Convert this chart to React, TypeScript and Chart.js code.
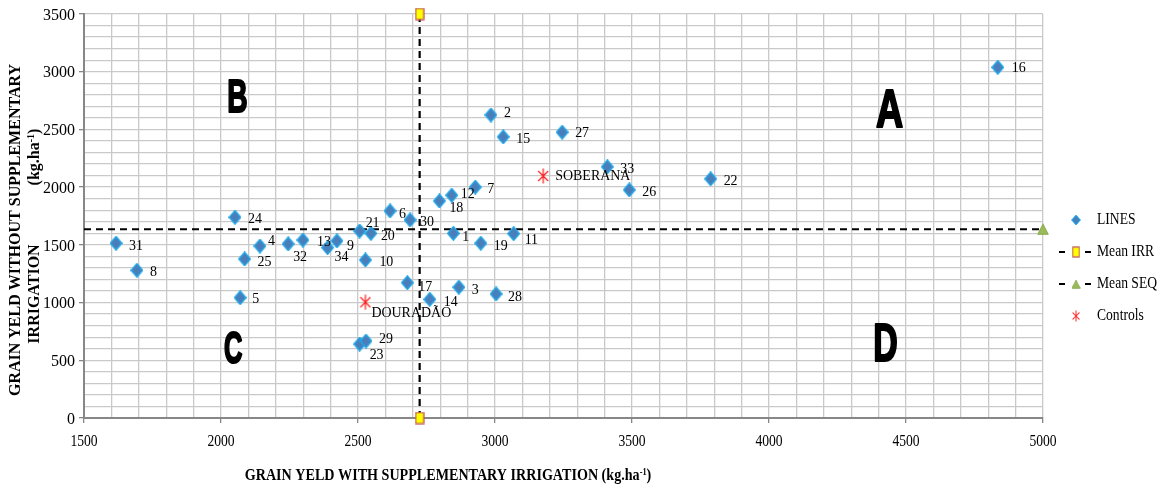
import { useEffect, useRef } from "react";
import { Chart, registerables } from "chart.js";

Chart.register(...registerables);

// ---------------- data ----------------
const X_MIN = 1500;
const X_MAX = 5000;
const Y_MIN = 0;
const Y_MAX = 3500;
const X_TICKS = [1500, 2000, 2500, 3000, 3500, 4000, 4500, 5000];
const Y_TICKS = [0, 500, 1000, 1500, 2000, 2500, 3000, 3500];

const LINE_IDS = [1, 2, 3, 4, 5, 6, 7, 8, 9, 10, 11, 12, 13, 14, 15, 16, 17, 18, 19, 20, 21, 22, 23, 24, 25, 26, 27, 28, 29, 30, 31, 32, 33, 34];
const LINE_IRR = [2848, 2985, 2868, 2142, 2070, 2617, 2928, 1693, 2423, 2527, 3068, 2842, 2299, 2762, 3030, 4835, 2680, 2797, 2948, 2547, 2506, 3787, 2506, 2051, 2086, 3490, 3245, 3004, 2529, 2690, 1617, 2245, 3410, 2389];
const LINE_SEQ = [1600, 2625, 1133, 1490, 1042, 1794, 2000, 1280, 1534, 1369, 1597, 1930, 1542, 1028, 2435, 3038, 1172, 1880, 1514, 1600, 1620, 2072, 641, 1739, 1378, 1976, 2476, 1075, 667, 1716, 1514, 1508, 2176, 1476];

const CONTROL_NAMES = ["SOBERANA", "DOURADÃO"];
const CONTROL_IRR = [3176, 2527];
const CONTROL_SEQ = [2097, 1003];

const MEAN_IRR = 2725;
const MEAN_SEQ = 1635;

const QUADRANTS = ["A", "B", "C", "D"];
const QUAD_IRR = [4440, 2060, 2045, 4425];
const QUAD_SEQ = [2686, 2799, 611, 659];

const LEGEND_LABELS = ["LINES", "Mean IRR", "Mean SEQ", "Controls"];

// ---------------- styles ----------------
const SERIF = '"Liberation Serif", "Times New Roman", serif';
const GRID = "#c9c9c9";
const AXIS = "#878787";
// label offsets in px (dx, dy) relative to each marker
const LINE_LABEL_OFFSETS: number[][] = [
  [9, 4], [13, -2], [13, 3], [8, -5], [12, 1], [9, 3], [12, 2], [13, 2], [10, 5], [14, 2],
  [11, 6], [9, -1], [14, 2], [14, 3], [13, 2], [14, 1], [11, 4], [10, 7], [13, 3], [10, 3],
  [6, -8], [13, 2], [10, 11], [13, 2], [13, 3], [13, 2], [13, 1], [12, 3], [13, -2], [10, 2],
  [13, 3], [5, 13], [13, 2], [7, 9],
];
const CONTROL_LABEL_OFFSETS: number[][] = [[12, 0], [6, 11]];
const QUAD_PX = [53, 47, 44, 53];
const QUAD_SX = [0.71, 0.6, 0.58, 0.64];

function mk(w: number, h: number, draw: (g: CanvasRenderingContext2D) => void) {
  const c = document.createElement("canvas");
  c.width = w;
  c.height = h;
  draw(c.getContext("2d")!);
  return c;
}

type Seg = { t: string; px: number; bold?: boolean; dy?: number };

function drawSegs(
  ctx: CanvasRenderingContext2D,
  segs: Seg[],
  cx: number,
  cy: number,
  align: "left" | "center" | "right",
  sx: number,
  sy: number,
  rot = 0,
  family = SERIF
) {
  ctx.save();
  ctx.translate(cx, cy);
  if (rot) ctx.rotate(rot);
  ctx.scale(sx, sy);
  ctx.textBaseline = "middle";
  ctx.textAlign = "left";
  ctx.fillStyle = "#000";
  let W = 0;
  const ws = segs.map((s) => {
    ctx.font = `${s.bold ? "bold " : ""}${s.px}px ${family}`;
    const w = ctx.measureText(s.t).width;
    W += w;
    return w;
  });
  let x = align === "center" ? -W / 2 : align === "right" ? -W : 0;
  segs.forEach((s, i) => {
    ctx.font = `${s.bold ? "bold " : ""}${s.px}px ${family}`;
    ctx.fillText(s.t, x, s.dy || 0);
    x += ws[i];
  });
  ctx.restore();
}

export default function App() {
  const ref = useRef<HTMLCanvasElement>(null);

  useEffect(() => {
    const canvas = ref.current!;

    const diamond = mk(13, 15, (g) => {
      g.beginPath();
      g.moveTo(6.5, 0.8);
      g.lineTo(12.2, 7.5);
      g.lineTo(6.5, 14.2);
      g.lineTo(0.8, 7.5);
      g.closePath();
      g.fillStyle = "#4a7ebb";
      g.fill();
      g.lineWidth = 1.4;
      g.strokeStyle = "#1fa6e6";
      g.stroke();
    });
    const asterisk = mk(12, 16, (g) => {
      g.strokeStyle = "#ff1a1a";
      g.lineWidth = 1.2;
      g.beginPath();
      g.moveTo(6, 0.5);
      g.lineTo(6, 15.5);
      g.moveTo(1, 3);
      g.lineTo(11, 13);
      g.moveTo(11, 3);
      g.lineTo(1, 13);
      g.stroke();
    });
    const square = mk(10, 13, (g) => {
      g.fillStyle = "#ffff00";
      g.fillRect(1, 1, 8, 11);
      g.strokeStyle = "#c0504d";
      g.lineWidth = 1.2;
      g.strokeRect(1, 1, 8, 11);
    });
    const triangle = mk(12, 12, (g) => {
      g.beginPath();
      g.moveTo(6, 0.8);
      g.lineTo(11.3, 11.2);
      g.lineTo(0.7, 11.2);
      g.closePath();
      g.fillStyle = "#9bbb59";
      g.fill();
      g.strokeStyle = "#86a84a";
      g.lineWidth = 1;
      g.stroke();
    });

    const overlay = {
      id: "overlay",
      afterDatasetsDraw(chart: any) {
        const ctx: CanvasRenderingContext2D = chart.ctx;
        const xs = chart.scales.x;
        const ys = chart.scales.y;
        // quadrant letters
        QUADRANTS.forEach((q, i) => {
          const px = xs.getPixelForValue(QUAD_IRR[i]);
          const py = ys.getPixelForValue(QUAD_SEQ[i]);
          ctx.save();
          ctx.font = `bold ${QUAD_PX[i]}px "Liberation Sans", Arial, sans-serif`;
          ctx.textBaseline = "alphabetic";
          ctx.textAlign = "left";
          ctx.fillStyle = "#000";
          ctx.strokeStyle = "#000";
          ctx.lineWidth = 2.2;
          ctx.lineJoin = "round";
          const w = ctx.measureText(q).width * QUAD_SX[i];
          ctx.translate(px - w / 2, py + QUAD_PX[i] * 0.358);
          ctx.scale(QUAD_SX[i], 1);
          ctx.fillText(q, 0, 0);
          ctx.strokeText(q, 0, 0);
          ctx.restore();
        });
        // point labels
        const m0 = chart.getDatasetMeta(0);
        m0.data.forEach((pt: any, i: number) => {
          const [dx, dy] = LINE_LABEL_OFFSETS[i];
          drawSegs(ctx, [{ t: String(LINE_IDS[i]), px: 15.5 }], pt.x + dx, pt.y + dy, "left", 0.9, 1);
        });
        const m3 = chart.getDatasetMeta(3);
        m3.data.forEach((pt: any, i: number) => {
          const [dx, dy] = CONTROL_LABEL_OFFSETS[i];
          drawSegs(ctx, [{ t: CONTROL_NAMES[i], px: 15.5 }], pt.x + dx, pt.y + dy, "left", 0.9, 1);
        });
      },
      afterDraw(chart: any) {
        const ctx: CanvasRenderingContext2D = chart.ctx;
        const xs = chart.scales.x;
        const ys = chart.scales.y;
        const area = chart.chartArea;
        // tick labels
        X_TICKS.forEach((v) => {
          drawSegs(ctx, [{ t: String(v), px: 17 }], xs.getPixelForValue(v), area.bottom + 24, "center", 0.8, 1);
        });
        Y_TICKS.forEach((v) => {
          drawSegs(ctx, [{ t: String(v), px: 16 }], area.left - 9, ys.getPixelForValue(v) + 1.5, "right", 1, 1);
        });
        // x title
        drawSegs(
          ctx,
          [
            { t: "GRAIN YELD WITH SUPPLEMENTARY IRRIGATION (kg.ha", px: 17, bold: true },
            { t: "-1", px: 10, bold: true, dy: -4 },
            { t: ")", px: 17, bold: true },
          ],
          448,
          476,
          "center",
          0.83,
          1
        );
        // y title
        drawSegs(ctx, [{ t: "GRAIN YELD WITHOUT SUPPLEMENTARY", px: 16, bold: true }], 16, 230, "center", 1, 1, -Math.PI / 2);
        drawSegs(ctx, [{ t: "IRRIGATION", px: 16, bold: true }], 35, 294, "center", 1, 1, -Math.PI / 2);
        drawSegs(
          ctx,
          [
            { t: "(kg.ha", px: 16, bold: true },
            { t: "-1", px: 10, bold: true, dy: -4 },
            { t: ")", px: 16, bold: true },
          ],
          35,
          157,
          "center",
          1,
          1,
          -Math.PI / 2
        );
        // legend
        const lx = area.right + 33;
        const tx = area.right + 54;
        const rows = [220, 252, 284, 316];
        const icons = [diamond, square, triangle, asterisk];
        const scalesI = [0.72, 0.85, 0.75, 0.7];
        rows.forEach((ry, i) => {
          if (i === 1 || i === 2) {
            ctx.save();
            ctx.strokeStyle = "#000";
            ctx.lineWidth = 2;
            ctx.beginPath();
            ctx.moveTo(lx - 17, ry);
            ctx.lineTo(lx - 11, ry);
            ctx.moveTo(lx + 9, ry);
            ctx.lineTo(lx + 15, ry);
            ctx.stroke();
            ctx.restore();
          }
          const img = icons[i];
          const w = img.width * scalesI[i];
          const h = img.height * scalesI[i];
          ctx.drawImage(img, lx - w / 2, ry - h / 2, w, h);
          drawSegs(ctx, [{ t: LEGEND_LABELS[i], px: 17 }], tx, ry, "left", 0.8, 1);
        });
      },
    };

    const chart = new Chart(canvas, {
      type: "scatter",
      data: {
        datasets: [
          {
            label: LEGEND_LABELS[0],
            data: LINE_IRR.map((x, i) => ({ x, y: LINE_SEQ[i] })),
            pointStyle: diamond as any,
            pointRadius: 6,
            showLine: false,
          },
          {
            label: LEGEND_LABELS[1],
            data: [
              { x: MEAN_IRR, y: Y_MIN },
              { x: MEAN_IRR, y: Y_MAX },
            ],
            showLine: true,
            borderColor: "#000",
            borderWidth: 2.2,
            borderDash: [7, 5],
            pointStyle: square as any,
            pointRadius: 5,
            clip: false as any,
          },
          {
            label: LEGEND_LABELS[2],
            data: [
              { x: X_MIN, y: MEAN_SEQ },
              { x: X_MAX, y: MEAN_SEQ },
            ],
            showLine: true,
            borderColor: "#000",
            borderWidth: 2.2,
            borderDash: [7, 5],
            pointStyle: triangle as any,
            pointRadius: [0, 6] as any,
            clip: false as any,
          },
          {
            label: LEGEND_LABELS[3],
            data: CONTROL_IRR.map((x, i) => ({ x, y: CONTROL_SEQ[i] })),
            pointStyle: asterisk as any,
            pointRadius: 6,
            showLine: false,
          },
        ],
      },
      options: {
        responsive: false,
        animation: false,
        events: [],
        layout: { padding: { top: 14, right: 119, left: 0, bottom: 0 } },
        plugins: {
          legend: { display: false },
          tooltip: { enabled: false },
          title: { display: false },
        },
        scales: {
          x: {
            type: "linear",
            min: X_MIN,
            max: X_MAX,
            ticks: { stepSize: 100, autoSkip: false, maxRotation: 0, callback: () => "" },
            grid: {
              color: GRID,
              lineWidth: 1.3,
              tickLength: 5,
              tickWidth: 1.3,
              tickColor: (c: any) => (c.tick && c.tick.value % 500 === 0 ? AXIS : "rgba(0,0,0,0)"),
            },
            border: { color: AXIS, width: 2 },
            afterFit: (s: any) => {
              s.height = 70;
            },
          },
          y: {
            type: "linear",
            min: Y_MIN,
            max: Y_MAX,
            ticks: { stepSize: 100, autoSkip: false, callback: () => "" },
            grid: {
              color: GRID,
              lineWidth: 1.3,
              tickLength: 5,
              tickWidth: 1.3,
              tickColor: (c: any) => (c.tick && c.tick.value % 500 === 0 ? AXIS : "rgba(0,0,0,0)"),
            },
            border: { color: AXIS, width: 2 },
            afterFit: (s: any) => {
              s.width = 84;
            },
          },
        },
      } as any,
      plugins: [overlay],
    });

    return () => chart.destroy();
  }, []);

  return (
    <div style={{ position: "fixed", left: 0, top: 0, width: 1162, height: 488, background: "#fff" }}>
      <canvas ref={ref} width={1162} height={488} style={{ display: "block", width: 1162, height: 488 }} />
    </div>
  );
}
